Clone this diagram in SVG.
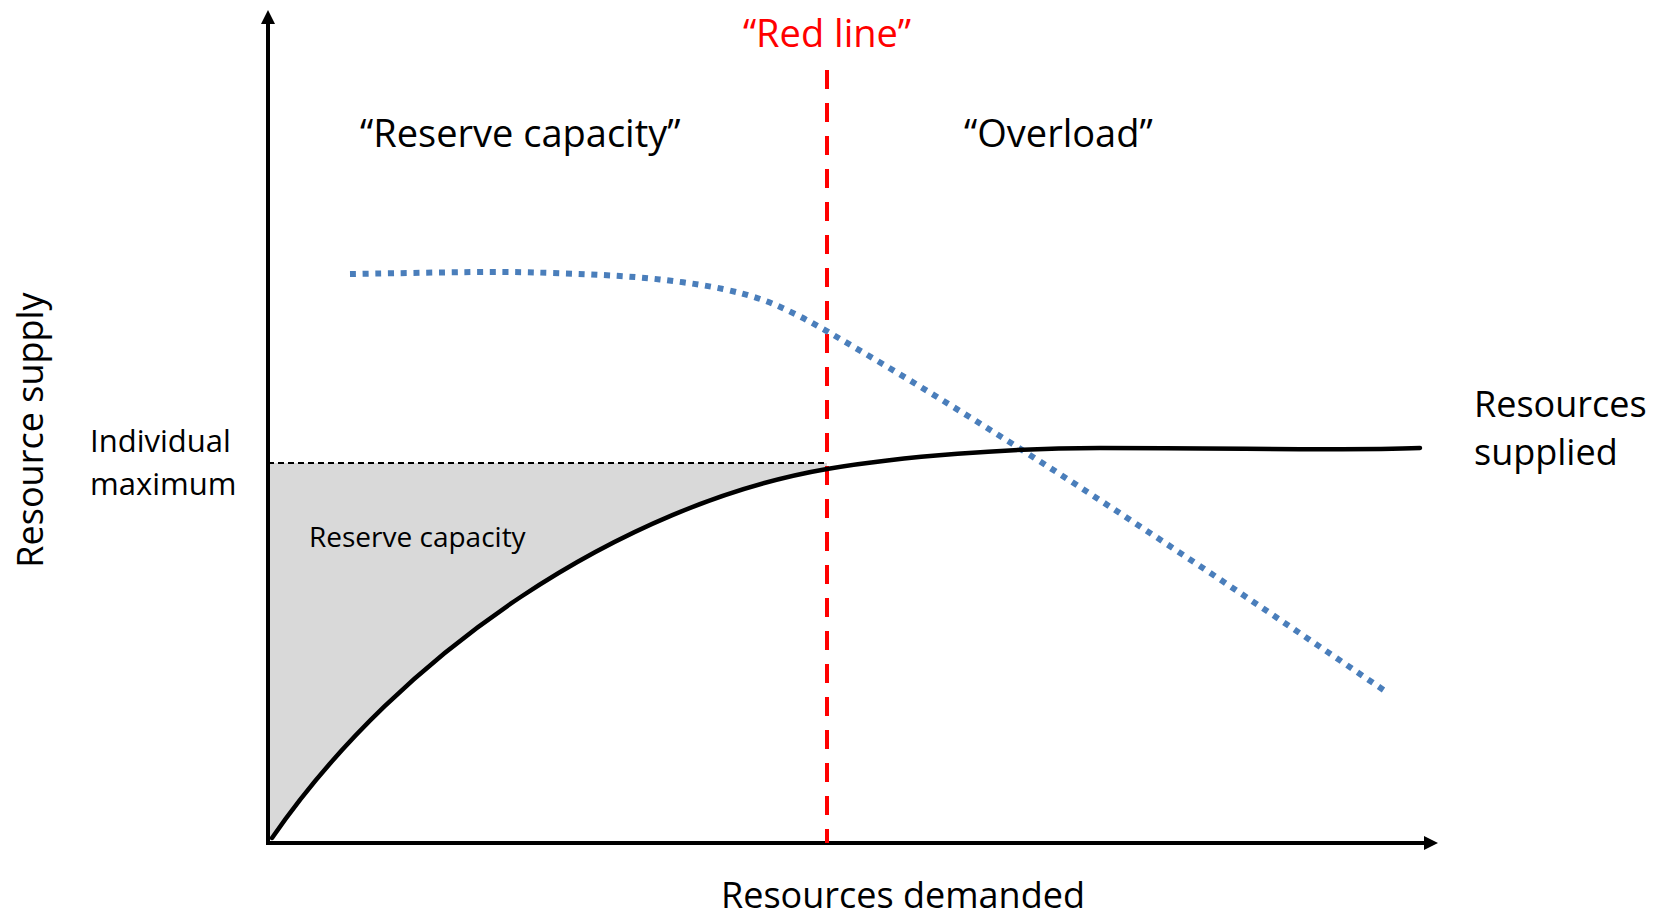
<svg xmlns="http://www.w3.org/2000/svg" width="1654" height="918" viewBox="0 0 1654 918">
  <style>
    text { font-family: "Open Sans", "Liberation Sans", Arial, sans-serif; fill: #000; }
    .big { font-size: 38px; }
    .mid { font-size: 36px; }
    .side { font-size: 31px; }
    .small { font-size: 28px; }
    .axis { stroke: #000; stroke-width: 4; fill: none; }
  </style>
  <defs>
    <marker id="arrow" viewBox="0 0 14 14" refX="0" refY="7" markerWidth="14" markerHeight="14" markerUnits="userSpaceOnUse" orient="auto">
      <path d="M0,0 L14,7 L0,14 Z" fill="#000"/>
    </marker>
  </defs>
  <rect width="1654" height="918" fill="#fff"/>

  <g id="reserve-area">
    <path d="M268,463 H827 V469 C623,504 401,651 272,838 L268,842 Z" fill="#d9d9d9"/>
    <line x1="268" y1="463" x2="827" y2="463" stroke="#000" stroke-width="2" stroke-dasharray="6 4"/>
  </g>

  <g id="connectors">
    <g id="axes">
      <line class="axis" x1="268" y1="845" x2="268" y2="24" marker-end="url(#arrow)"/>
      <line class="axis" x1="266" y1="843" x2="1424" y2="843" marker-end="url(#arrow)"/>
    </g>
    <g id="red-line">
      <line x1="827" y1="70" x2="827" y2="843" stroke="#ff0000" stroke-width="4" stroke-dasharray="19 14"/>
    </g>
    <g id="demand-curve">
      <path d="M350,274 C371.7,273.7 446.2,272.2 480,272 C513.8,271.8 529.7,272.3 553,273 C576.3,273.7 600,274.7 620,276 C640,277.3 655.8,278.8 673,281 C690.2,283.2 708,285.8 723,289 C738,292.2 750.7,295.7 763,300 C775.3,304.3 785.8,309.5 797,315 C808.2,320.5 819,326.8 830,333 C1015,440.3 1200,565.2 1385,691" fill="none" stroke="#4a7ebb" stroke-width="6" stroke-dasharray="6 6.7"/>
    </g>
    <g id="supply-curve">
      <path d="M272,838 C401,651 623,504 827,469 C901,456.4 1010,448 1100,448 C1250,448 1340,451 1420,448" fill="none" stroke="#000" stroke-width="4.5" stroke-linecap="round"/>
    </g>
  </g>

  <g id="labels">
    <text id="red-line-label" class="big" x="827" y="47" text-anchor="middle" style="fill:#ff0000">“Red line”</text>
    <text id="reserve-quote" class="big" x="360" y="147">“Reserve capacity”</text>
    <text id="overload" class="big" x="964" y="147">“Overload”</text>
    <text id="individual-max" class="side" x="90" y="452">Individual<tspan x="90" y="495">maximum</tspan></text>
    <text id="reserve-label" class="small" x="309" y="547">Reserve capacity</text>
    <text id="supplied-label" class="mid" x="1474" y="417">Resources<tspan x="1474" y="465">supplied</tspan></text>
    <text id="x-label" class="mid" x="903" y="908" text-anchor="middle">Resources demanded</text>
    <text id="y-label" class="mid" transform="translate(43,430) rotate(-90)" text-anchor="middle">Resource supply</text>
  </g>
</svg>
